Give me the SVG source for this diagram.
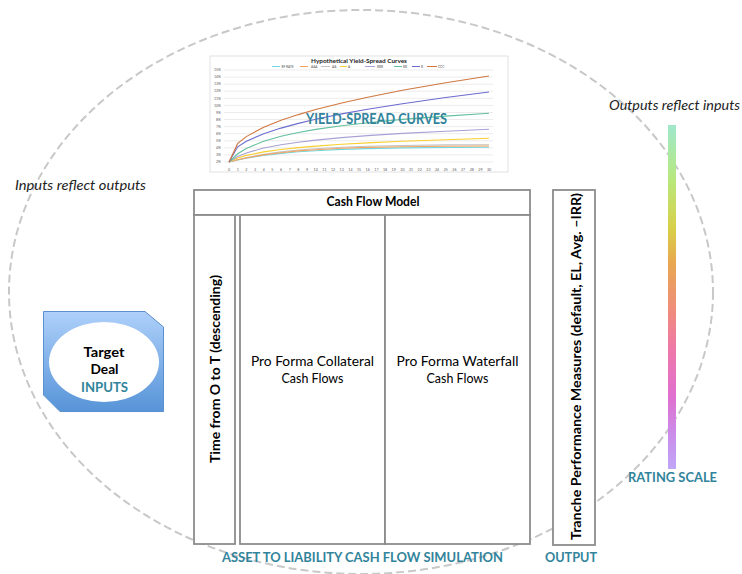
<svg xmlns="http://www.w3.org/2000/svg" width="742" height="574" viewBox="0 0 742 574">
<defs>
<style>
text{font-family:Lato,"Liberation Sans",sans-serif;}
.teal{fill:#31849b;font-weight:bold;}
.box{fill:#fff;stroke:#8c8c8c;stroke-width:1.8;}
.lbl{fill:#000;font-size:12.5px;}
.bold{font-weight:bold;}
.ital{font-style:italic;font-size:14px;fill:#222;}
.grid{stroke:#e4e4e4;stroke-width:0.7;}
.ax{font-size:3.6px;fill:#606060;text-anchor:middle;}
.ay{font-size:3.6px;fill:#606060;text-anchor:end;}
.crv{fill:none;stroke-width:1.1;}
.leg{font-size:3.2px;fill:#555;}
</style>
<linearGradient id="dealGrad" x1="0" y1="0" x2="0" y2="1">
<stop offset="0" stop-color="#aed0fa"/>
<stop offset="1" stop-color="#5794d8"/>
</linearGradient>
<linearGradient id="rateGrad" x1="0" y1="0" x2="0" y2="1">
<stop offset="0" stop-color="#9fe8cc"/>
<stop offset="0.16" stop-color="#b8e87c"/>
<stop offset="0.3" stop-color="#d8d048"/>
<stop offset="0.4" stop-color="#e8a850"/>
<stop offset="0.55" stop-color="#f08a80"/>
<stop offset="0.65" stop-color="#ee78a8"/>
<stop offset="0.79" stop-color="#e070d0"/>
<stop offset="0.89" stop-color="#cc8ae8"/>
<stop offset="1" stop-color="#c0a6f8"/>
</linearGradient>
</defs>
<rect width="742" height="574" fill="#fff"/>

<g id="connectors">
<ellipse cx="361" cy="292" rx="352" ry="282" fill="none" stroke="#c8c8c8" stroke-width="2" stroke-dasharray="8 4"/>
</g>

<g id="chart">
<rect x="210" y="56" width="298" height="116" fill="#fff" stroke="#d9d9d9" stroke-width="0.8"/>
<text x="359" y="63" font-size="6.4" font-weight="bold" text-anchor="middle" fill="#222">Hypothetical Yield-Spread Curves</text>
<g>
<line x1="272" y1="66.5" x2="280" y2="66.5" stroke="#6fd8e2"/><text class="leg" x="281.5" y="67.6">RF RATE</text>
<line x1="300" y1="66.5" x2="308" y2="66.5" stroke="#f4a460"/><text class="leg" x="311" y="67.6">AAA</text>
<line x1="321" y1="66.5" x2="330" y2="66.5" stroke="#c4c4c4"/><text class="leg" x="332" y="67.6">AA</text>
<line x1="340" y1="66.5" x2="347" y2="66.5" stroke="#f8d030"/><text class="leg" x="348" y="67.6">A</text>
<line x1="365" y1="66.5" x2="375" y2="66.5" stroke="#a7a2d6"/><text class="leg" x="377" y="67.6">BBB</text>
<line x1="394" y1="66.5" x2="402" y2="66.5" stroke="#63c09c"/><text class="leg" x="403" y="67.6">BB</text>
<line x1="412" y1="66.5" x2="420" y2="66.5" stroke="#6c6cd0"/><text class="leg" x="421" y="67.6">B</text>
<line x1="427" y1="66.5" x2="437" y2="66.5" stroke="#d07840"/><text class="leg" x="438" y="67.6">CCC</text>
</g>
<g>
<line class="grid" x1="224" y1="70" x2="493" y2="70"/>
<line class="grid" x1="224" y1="77.1" x2="493" y2="77.1"/>
<line class="grid" x1="224" y1="84.2" x2="493" y2="84.2"/>
<line class="grid" x1="224" y1="91.2" x2="493" y2="91.2"/>
<line class="grid" x1="224" y1="98.3" x2="493" y2="98.3"/>
<line class="grid" x1="224" y1="105.4" x2="493" y2="105.4"/>
<line class="grid" x1="224" y1="112.5" x2="493" y2="112.5"/>
<line class="grid" x1="224" y1="119.5" x2="493" y2="119.5"/>
<line class="grid" x1="224" y1="126.6" x2="493" y2="126.6"/>
<line class="grid" x1="224" y1="133.7" x2="493" y2="133.7"/>
<line class="grid" x1="224" y1="140.8" x2="493" y2="140.8"/>
<line class="grid" x1="224" y1="147.8" x2="493" y2="147.8"/>
<line class="grid" x1="224" y1="154.9" x2="493" y2="154.9"/>
<line class="grid" x1="224" y1="162" x2="493" y2="162"/>
</g>
<g>
<text class="ay" x="221" y="71.2">15%</text>
<text class="ay" x="221" y="78.3">14%</text>
<text class="ay" x="221" y="85.4">13%</text>
<text class="ay" x="221" y="92.4">12%</text>
<text class="ay" x="221" y="99.5">11%</text>
<text class="ay" x="221" y="106.6">10%</text>
<text class="ay" x="221" y="113.7">9%</text>
<text class="ay" x="221" y="120.7">8%</text>
<text class="ay" x="221" y="127.8">7%</text>
<text class="ay" x="221" y="134.9">6%</text>
<text class="ay" x="221" y="142">5%</text>
<text class="ay" x="221" y="149">4%</text>
<text class="ay" x="221" y="156.1">3%</text>
<text class="ay" x="221" y="163.2">2%</text>
</g>
<g>
<text class="ax" x="229" y="170.5">0</text><text class="ax" x="237.7" y="170.5">1</text><text class="ax" x="246.3" y="170.5">2</text><text class="ax" x="255" y="170.5">3</text><text class="ax" x="263.7" y="170.5">4</text><text class="ax" x="272.4" y="170.5">5</text><text class="ax" x="281" y="170.5">6</text><text class="ax" x="289.7" y="170.5">7</text><text class="ax" x="298.4" y="170.5">8</text><text class="ax" x="307" y="170.5">9</text><text class="ax" x="315.7" y="170.5">10</text><text class="ax" x="324.4" y="170.5">11</text><text class="ax" x="333" y="170.5">12</text><text class="ax" x="341.7" y="170.5">13</text><text class="ax" x="350.4" y="170.5">14</text><text class="ax" x="359" y="170.5">15</text><text class="ax" x="367.7" y="170.5">16</text><text class="ax" x="376.4" y="170.5">17</text><text class="ax" x="385.1" y="170.5">18</text><text class="ax" x="393.7" y="170.5">19</text><text class="ax" x="402.4" y="170.5">20</text><text class="ax" x="411.1" y="170.5">21</text><text class="ax" x="419.7" y="170.5">22</text><text class="ax" x="428.4" y="170.5">23</text><text class="ax" x="437.1" y="170.5">24</text><text class="ax" x="445.8" y="170.5">25</text><text class="ax" x="454.4" y="170.5">26</text><text class="ax" x="463.1" y="170.5">27</text><text class="ax" x="471.8" y="170.5">28</text><text class="ax" x="480.4" y="170.5">29</text><text class="ax" x="489" y="170.5">30</text>
</g>
<g>
<polyline class="crv" stroke="#6fd8e2" points="229,162 237.7,160 246.3,158.3 263.7,155.5 281,153.4 298.4,151.8 315.7,150.7 341.7,149.4 367.7,148.6 402.4,147.9 445.8,147.5 489,147.3"/>
<polyline class="crv" stroke="#c4c4c4" points="229,162 237.7,159.7 246.3,157.6 263.7,154.4 281,151.9 298.4,150 315.7,148.7 341.7,147.2 367.7,146.2 402.4,145.5 445.8,144.9 489,144.7"/>
<polyline class="crv" stroke="#f4a460" points="229,162 237.7,159.8 246.3,158 263.7,154.9 281,152.7 298.4,150.9 315.7,149.7 341.7,148.3 367.7,147.4 402.4,146.7 445.8,146.2 489,146"/>
<polyline class="crv" stroke="#f8d030" points="229,162 237.7,158 246.3,155.4 263.7,151.9 281,149.5 298.4,147.6 315.7,146.1 341.7,144.3 367.7,142.9 402.4,141.3 445.8,139.7 489,138.3"/>
<polyline class="crv" stroke="#a7a2d6" points="229,162 237.7,156.5 246.3,152.9 263.7,148 281,144.7 298.4,142.2 315.7,140.1 341.7,137.6 367.7,135.6 402.4,133.4 445.8,131.2 489,129.3"/>
<polyline class="crv" stroke="#63c09c" points="229,162 237.7,153.8 246.3,148.5 263.7,141.2 281,136.2 298.4,132.5 315.7,129.4 341.7,125.7 367.7,122.7 402.4,119.4 445.8,116.1 489,113.3"/>
<polyline class="crv" stroke="#6c6cd0" points="229,162 237.7,146.8 246.3,141.3 263.7,133.7 281,128.1 298.4,123.4 315.7,119.3 341.7,113.9 367.7,109.2 402.4,103.7 445.8,97.5 489,92"/>
<polyline class="crv" stroke="#d07840" points="229,162 237.7,143.4 246.3,136.6 263.7,127.3 281,120.3 298.4,114.6 315.7,109.5 341.7,103 367.7,97.2 402.4,90.3 445.8,82.8 489,76"/>
</g>
<text class="teal" x="376.5" y="124" font-size="16" text-anchor="middle" textLength="141" lengthAdjust="spacingAndGlyphs">YIELD-SPREAD CURVES</text>
</g>

<g id="cash-flow-model">
<rect class="box" x="194" y="190" width="336" height="25"/>
<text class="lbl bold" x="373" y="206" font-size="11.5" text-anchor="middle" textLength="93" lengthAdjust="spacingAndGlyphs">Cash Flow Model</text>
</g>

<g id="time-column">
<rect class="box" x="194" y="215" width="41" height="329"/>
<text class="lbl bold" transform="translate(219.5,369) rotate(-90)" font-size="13" text-anchor="middle" textLength="188" lengthAdjust="spacingAndGlyphs">Time from O to T (descending)</text>
</g>

<g id="collateral">
<rect class="box" x="240" y="215" width="145" height="329"/>
<text class="lbl" x="312.5" y="366" text-anchor="middle" textLength="123" lengthAdjust="spacingAndGlyphs">Pro Forma Collateral</text>
<text class="lbl" x="312.5" y="383" text-anchor="middle" textLength="62" lengthAdjust="spacingAndGlyphs">Cash Flows</text>
</g>

<g id="waterfall">
<rect class="box" x="385" y="215" width="145" height="329"/>
<text class="lbl" x="457.5" y="366" text-anchor="middle" textLength="122" lengthAdjust="spacingAndGlyphs">Pro Forma Waterfall</text>
<text class="lbl" x="457.5" y="383" text-anchor="middle" textLength="62" lengthAdjust="spacingAndGlyphs">Cash Flows</text>
</g>

<g id="output">
<rect class="box" x="553" y="190" width="42" height="355"/>
<text class="lbl bold" transform="translate(580.5,366.5) rotate(-90)" font-size="13" text-anchor="middle" textLength="347" lengthAdjust="spacingAndGlyphs">Tranche Performance Measures (default, EL, Avg. –IRR)</text>
</g>

<g id="target-deal">
<path d="M43.5,311.5 L145,311.5 L163.5,327 L163.5,411.5 L60,411.5 L43.5,395 Z" fill="url(#dealGrad)" stroke="#5a8fd0" stroke-width="1"/>
<ellipse cx="104" cy="362" rx="55" ry="40" fill="#fff"/>
<text class="bold" x="104" y="357" font-size="14" text-anchor="middle" fill="#000" textLength="41" lengthAdjust="spacingAndGlyphs">Target</text>
<text class="bold" x="104.5" y="374" font-size="14" text-anchor="middle" fill="#000" textLength="28" lengthAdjust="spacingAndGlyphs">Deal</text>
<text class="teal" x="104.5" y="392" font-size="14" text-anchor="middle" textLength="47" lengthAdjust="spacingAndGlyphs">INPUTS</text>
</g>

<g id="rating-scale">
<rect x="668" y="125" width="8" height="344" fill="url(#rateGrad)"/>
<text class="teal" x="672.5" y="482" font-size="12.5" text-anchor="middle" textLength="89" lengthAdjust="spacingAndGlyphs">RATING SCALE</text>
</g>

<g id="labels">
<text class="ital" x="15" y="190" textLength="131" lengthAdjust="spacingAndGlyphs">Inputs reflect outputs</text>
<text class="ital" x="609" y="110" textLength="131" lengthAdjust="spacingAndGlyphs">Outputs reflect inputs</text>
<text class="teal" x="362.5" y="562" font-size="13" text-anchor="middle" textLength="281" lengthAdjust="spacingAndGlyphs">ASSET TO LIABILITY CASH FLOW SIMULATION</text>
<text class="teal" x="571" y="562" font-size="13" text-anchor="middle" textLength="52" lengthAdjust="spacingAndGlyphs">OUTPUT</text>
</g>
</svg>
